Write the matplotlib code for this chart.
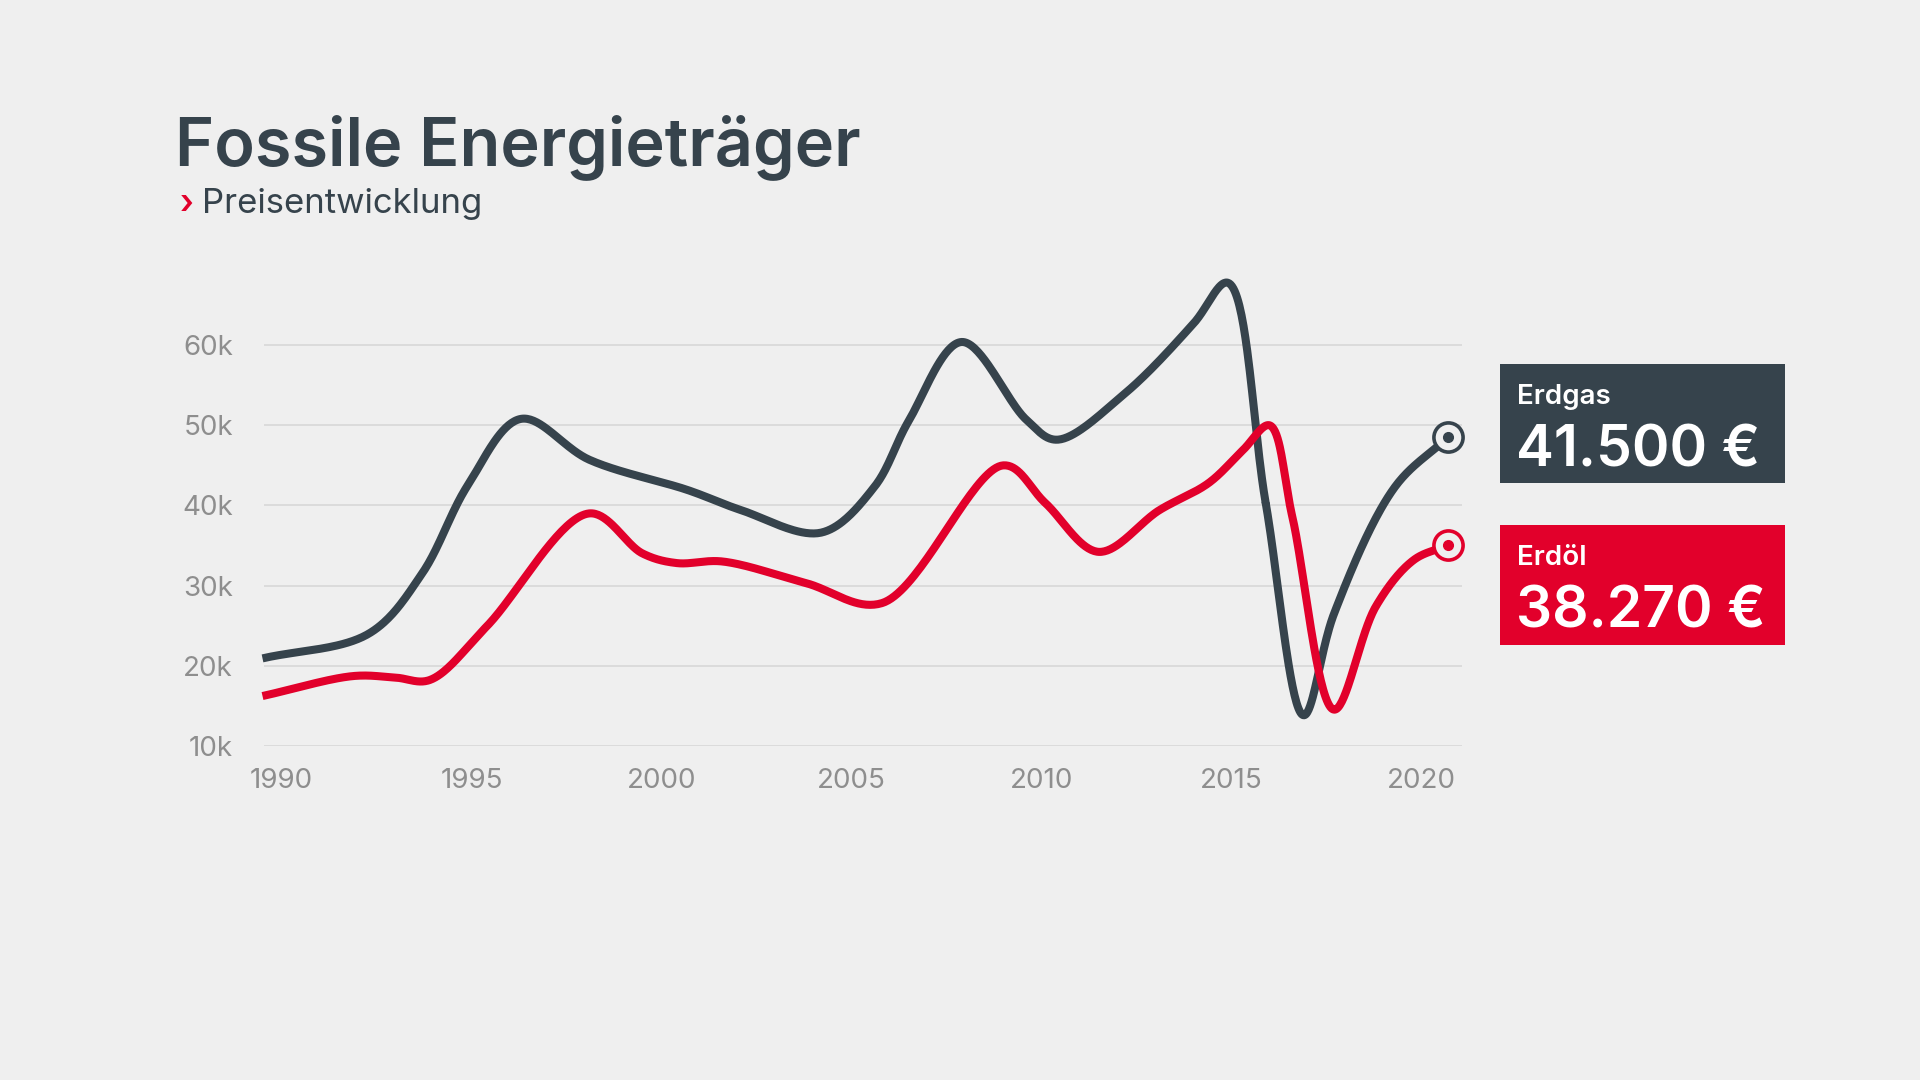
import matplotlib.pyplot as plt
import numpy as np

# values (x in years, y in thousand €)
gas_years = [1989.5, 1992.3, 1993.7, 1994.9, 1996.3, 1998.1, 2000.7, 2002.1, 2004.2,
             2005.6, 2006.5, 2007.9, 2009.6, 2010.4, 2012.2, 2014.0, 2014.9, 2015.9,
             2016.9, 2017.7, 2019.3, 2020.7]
gas_values = [20.9, 24.0, 31.5, 42.5, 50.8, 45.7, 41.9, 39.4, 36.6,
              42.3, 50.5, 60.4, 50.7, 48.2, 54.0, 62.7, 67.8, 40.3,
              13.8, 26.5, 42.3, 48.5]

oil_years = [1989.5, 1991.9, 1993.0, 1993.9, 1995.4, 1998.1, 1999.5, 2000.4,
             2001.6, 2003.8, 2005.8, 2009.0, 2010.1, 2011.5, 2013.1, 2014.4,
             2015.3, 2016.0, 2016.6, 2017.7, 2018.8, 2019.8, 2020.7]
oil_values = [16.2, 18.7, 18.5, 18.2, 24.9, 39.0, 34.0, 32.8,
              33.0, 30.3, 27.8, 45.0, 40.3, 34.2, 39.4, 42.8,
              46.9, 50.0, 38.6, 14.5, 27.4, 33.2, 35.0]

y_ticks = [10, 20, 30, 40, 50, 60]
x_ticks = [1990, 1995, 2000, 2005, 2010, 2015, 2020]

gas_label = "Erdgas"
gas_price = "41.500 €"
oil_label = "Erdöl"
oil_price = "38.270 €"

BG = "#efefef"
DARK = "#36434c"
RED = "#e2002b"
GREY = "#8e8e8e"

plt.rcParams['font.family'] = ['Inter', 'DejaVu Sans']

# pixel size of one year / one thousand, used to shape the curve
SX, SY = 38.0, 8.01


def catmull(x, y, n=40, alpha=0.5):
    # centripetal catmull-rom through the points
    P = np.column_stack([np.asarray(x, float) * SX, np.asarray(y, float) * SY])
    P = np.vstack([2 * P[0] - P[1], P, 2 * P[-1] - P[-2]])
    out = []
    for i in range(1, len(P) - 2):
        p0, p1, p2, p3 = P[i - 1], P[i], P[i + 1], P[i + 2]
        t0 = 0.0
        t1 = t0 + np.linalg.norm(p1 - p0) ** alpha
        t2 = t1 + np.linalg.norm(p2 - p1) ** alpha
        t3 = t2 + np.linalg.norm(p3 - p2) ** alpha
        t = np.linspace(t1, t2, n)[:, None]
        a1 = (t1 - t) / (t1 - t0) * p0 + (t - t0) / (t1 - t0) * p1
        a2 = (t2 - t) / (t2 - t1) * p1 + (t - t1) / (t2 - t1) * p2
        a3 = (t3 - t) / (t3 - t2) * p2 + (t - t2) / (t3 - t2) * p3
        b1 = (t2 - t) / (t2 - t0) * a1 + (t - t0) / (t2 - t0) * a2
        b2 = (t3 - t) / (t3 - t1) * a2 + (t - t1) / (t3 - t1) * a3
        c = (t2 - t) / (t2 - t1) * b1 + (t - t1) / (t2 - t1) * b2
        out.append(c)
    out = np.vstack(out)
    return out[:, 0] / SX, out[:, 1] / SY


fig = plt.figure(figsize=(19.2, 10.8), dpi=100, facecolor=BG)

W, H = 1920, 1080
left, right = 263.5, 1462
bottom, top = 745.7, 265.1
ax = fig.add_axes([left / W, 1 - bottom / H, (right - left) / W, (bottom - top) / H])
ax.set_facecolor(BG)
ax.set_xlim(1989.526, 2021.066)
ax.set_ylim(10, 70)

for sp in ax.spines.values():
    sp.set_visible(False)

ax.set_yticks(y_ticks)
ax.set_yticklabels([f"{v}k" for v in y_ticks])
ax.set_xticks(x_ticks)
ax.set_xticklabels([str(v) for v in x_ticks])
ax.tick_params(length=0, labelcolor=GREY)
ax.tick_params(axis='y', pad=22, labelsize=20)
ax.tick_params(axis='x', pad=16, labelsize=20)
ax.grid(axis='y', color='#d9d9d9', linewidth=1.3)
ax.grid(axis='x', visible=False)
ax.set_axisbelow(True)

gx, gy = catmull(gas_years, gas_values)
ox, oy = catmull(oil_years, oil_values)
ax.plot(gx, gy, color=DARK, linewidth=5.8, solid_capstyle='butt', clip_on=False, zorder=3)
ax.plot(ox, oy, color=RED, linewidth=5.8, solid_capstyle='butt', clip_on=False, zorder=3)

# end markers
for xs, ys, c in [(gas_years, gas_values, DARK), (oil_years, oil_values, RED)]:
    ax.plot(xs[-1], ys[-1], 'o', markersize=21, markerfacecolor=BG, markeredgecolor=c,
            markeredgewidth=2.6, clip_on=False, zorder=4)
    ax.plot(xs[-1], ys[-1], 'o', markersize=7, color=c, clip_on=False, zorder=5)

# title
fig.text(175 / W, 1 - 165 / H, "Fossile Energieträger", fontsize=48, fontweight='semibold',
         color=DARK, ha='left', va='baseline')
fig.text(180 / W, 1 - 213 / H, "›", fontsize=24, fontweight='semibold', color=RED,
         ha='left', va='baseline')
fig.text(202 / W, 1 - 213 / H, "Preisentwicklung", fontsize=25, color=DARK,
         ha='left', va='baseline')

# value boxes
boxes = [(363.5, 483, DARK, gas_label, gas_price), (525, 645, RED, oil_label, oil_price)]
for y0, y1, c, lab, price in boxes:
    fig.patches.append(plt.Rectangle((1500 / W, 1 - y1 / H), 285 / W, (y1 - y0) / H,
                                     transform=fig.transFigure, facecolor=c, edgecolor='none'))
    fig.text(1517 / W, 1 - (y0 + 40) / H, lab, fontsize=20, fontweight='semibold',
             color='white', ha='left', va='baseline')
    fig.text(1516 / W, 1 - (y0 + 103) / H, price, fontsize=41, fontweight='semibold',
             color='white', ha='left', va='baseline')

plt.savefig("out.png", dpi=100, facecolor=BG)
